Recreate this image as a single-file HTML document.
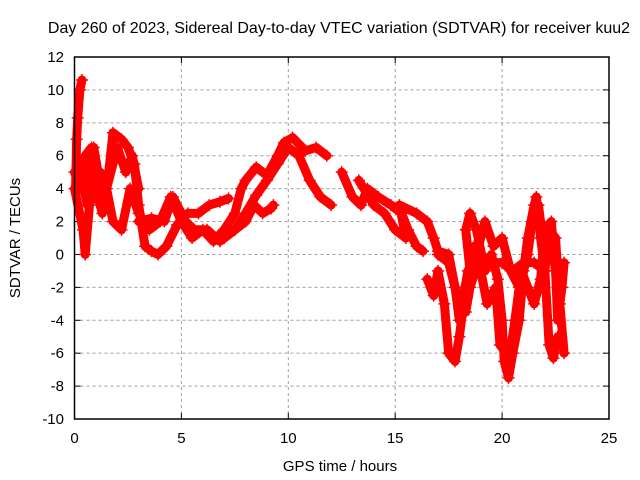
<!DOCTYPE html>
<html><head><meta charset="utf-8"><style>
body{margin:0;background:#fff}
svg{display:block;font-family:"Liberation Sans",sans-serif}
</style></head><body>
<svg id="chart" width="640" height="480" viewBox="0 0 640 480">
<text x="339" y="33" font-size="16" text-anchor="middle" fill="#000">Day 260 of 2023, Sidereal Day-to-day VTEC variation (SDTVAR) for receiver kuu2</text>
<text x="340" y="471" font-size="15" text-anchor="middle" fill="#000">GPS time / hours</text>
<text transform="translate(20,238) rotate(-90)" font-size="15" text-anchor="middle" fill="#000">SDTVAR / TECUs</text>
<g id="grid"></g>
<g id="ticks"></g>
<g id="marks"></g>
<rect x="74.5" y="57" width="534.5" height="362" fill="none" stroke="#000" stroke-width="1.5"/>
</svg>
<script>
const xTicks=[0,5,10,15,20,25];
const yTicks=[-10,-8,-6,-4,-2,0,2,4,6,8,10,12];
const spikeH=[0.05,0.1,0.15,0.25,0.35];
const spikeV=[4,7,8.3,10,10.6];
const traceBH=[0,0.3,0.5,0.8,1.0,1.3,1.6,1.8,2.2,2.5,2.8,3.0,3.3,3.6,3.9,4.3,4.8,5.3,5.8,6.3,6.8,7.2];
const traceBV=[5,4,6,6.5,4,2.5,5,7.4,7,6.5,5.5,3,0.5,0.2,0,0.5,1.8,2.5,2.5,3.0,3.2,3.4];
const traceCH=[0,0.4,0.5,0.7,1.2,1.5,1.8,2.2,2.6,3,3.5,4,4.5,5,5.5,6.0,6.5,7,7.5,7.8,8.0,8.5,9.0,9.5,9.8,10.2,10.8,11.3,11.8];
const traceCV=[4,1.5,0,3,5,4,2,1.5,4,2.5,1.5,2,3.5,2,1,1.5,0.8,1.5,2.5,4,4.5,5.3,4.8,6,6.8,7.1,6.3,6.5,6];
const traceDH=[3,3.6,4.2,4.6,5.2,5.6,6.2,6.8,7.5,8.0,8.5,9,9.5,10,10.5,11,11.5,12.0];
const traceDV=[2,2.2,2,3.5,2,1.5,1.5,0.8,1.5,2.5,3.6,4.5,5.5,6.5,6,4.5,3.5,3];
const traceEH=[7,7.5,8,8.4,8.8,9.2,9.3];
const traceEV=[1,1.5,2,3,2.5,2.8,3];
const traceFH=[12.5,13,13.4,13.7,14.2,14.8,15.3,15.6,16,16.3];
const traceFV=[5,3.5,3,4,3.5,3,2.5,1.5,0.5,0.2];
const traceGH=[13.3,14,14.5,15,15.5,15.2,16,16.5,16.8,17,17.5];
const traceGV=[4.5,3,2.5,1.5,1,3,2.5,2,1,0.2,0];
const traceHH=[16.5,16.8,17,17.3,17.5,17.8,18,18.2,18.5,18.3,18.5,18.8,19.2,19.5,19.8,20,20.1,20.3,20.5,20.8,21,21.2,21.5,21.6,21.8,22,22.2,22.5,22.7,22.9];
const traceHV=[-1.5,-2.5,-1,-3,-6,-6.5,-5,-3,-1,1.5,2.5,1.5,-1,0,-1.5,-4,-6.5,-7.5,-6,-4,-1,1,3,3.5,1,-1,1.5,1,-3,-6];
const traceIH=[17.5,17.8,18,18.3,18.7,19,19.3,19.7,19.9,20.2,20.4,20.6,20.9,21.2,21.5,21.8,22,22.3,22.5,22.6,22.8,22.9];
const traceIV=[0,-2,-4,-2,0.5,-1,-3,-2,-5.5,-6,-5.8,-4,-1,-2,-3,-1.5,1.5,2,-1,-4,-2,-0.5];
const traceJH=[17,17.5,18,18.3,18.5,19,19.5,20,20.5,21,21.5,22,22.2,22.4,22.6];
const traceJV=[0,-0.5,-3,-3.5,-2,0,-0.5,-0.5,-1,-0.5,-0.5,-1,-5.5,-6.3,-5];
const traceKH=[0.2,0.6,0.9,1.1,1.4,2.0,2.4,2.7,3.0];
const traceKV=[5.5,3,6.5,5,3.5,6.5,5,6,4];
const traceLH=[18,18.4,18.8,19.2,19.6,20,20.4,20.8,21.2,21.4,21.7,22,22.3,22.6];
const traceLV=[-4,-1,0,2,0.5,1,-1,-2,0,2,3,0,1,-2];
const traces=[[spikeH,spikeV],[traceBH,traceBV],[traceCH,traceCV],[traceDH,traceDV],[traceEH,traceEV],[traceFH,traceFV],[traceGH,traceGV],[traceHH,traceHV],[traceIH,traceIV],[traceJH,traceJV],[traceKH,traceKV],[traceLH,traceLV]];

const X0=74.5,X1=609,Y0=419,Y1=57;
const sx=h=>X0+(h-0)/(25-0)*(X1-X0);
const sy=v=>Y0-(v+10)/22*(Y0-Y1);
const NS='http://www.w3.org/2000/svg';
const grid=document.getElementById('grid'),ticks=document.getElementById('ticks'),marks=document.getElementById('marks');
function mk(t,a,p){const e=document.createElementNS(NS,t);for(const k in a)e.setAttribute(k,a[k]);p.appendChild(e);return e;}
xTicks.forEach(t=>{
  const x=sx(t);
  if(t>0&&t<25){const g=mk('line',{x1:x,x2:x,y1:Y1,y2:Y0,stroke:'#a0a0a0','stroke-dasharray':'3,3'},grid);
  
  }
  mk('line',{x1:x,x2:x,y1:Y0,y2:Y0-6,stroke:'#000'},ticks);
  mk('line',{x1:x,x2:x,y1:Y1,y2:Y1+6,stroke:'#000'},ticks);
  const l=mk('text',{x:x,y:443,'font-size':15,'text-anchor':'middle'},ticks);l.textContent=t;
  
  
});
yTicks.forEach(t=>{
  const y=sy(t);
  if(t>-10&&t<12){const g=mk('line',{x1:X0,x2:X1,y1:y,y2:y,stroke:'#a0a0a0','stroke-dasharray':'3,3'},grid);
  
  }
  mk('line',{x1:X0,x2:X0+6,y1:y,y2:y,stroke:'#000'},ticks);
  mk('line',{x1:X1,x2:X1-6,y1:y,y2:y,stroke:'#000'},ticks);
  const l=mk('text',{x:64,y:y+5,'font-size':15,'text-anchor':'end'},ticks);l.textContent=t;
  
  
});
traces.forEach(([H,V])=>{
  const pts=H.map((h,i)=>sx(h)+','+sy(V[i])).join(' ');
  const pl=mk('polyline',{points:pts,fill:'none',stroke:'#ff0000','stroke-width':9,'stroke-linejoin':'round','stroke-linecap':'round'},marks);
  
  
  H.forEach((h,i)=>{
    const x=sx(h),y=sy(V[i]);
    const p=mk('path',{d:`M${x-6},${y}H${x+6}M${x},${y-6}V${y+6}`,stroke:'#ff0000','stroke-width':1.5},marks);
    
    
  });
});
</script>
</body></html>
